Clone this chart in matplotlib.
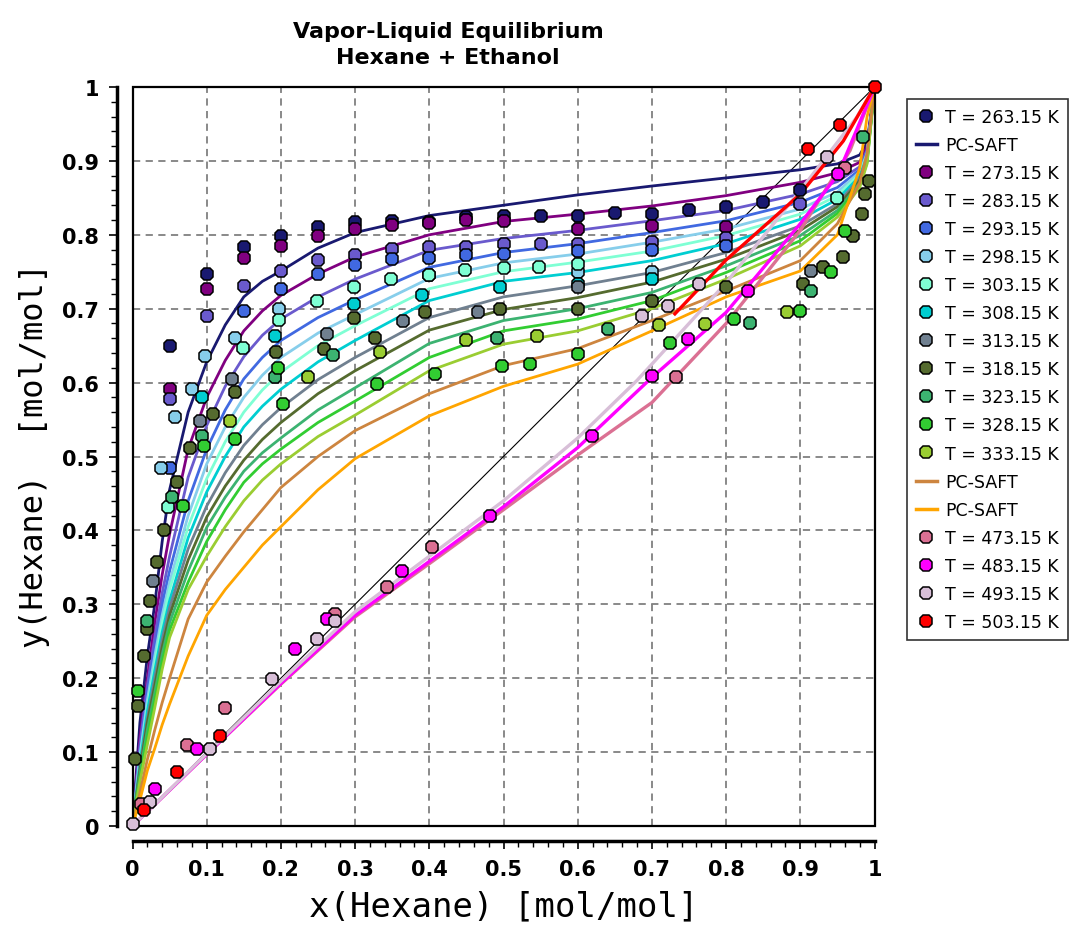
import matplotlib
matplotlib.use("Agg")
import matplotlib.pyplot as plt
from matplotlib.lines import Line2D
from matplotlib.patches import Rectangle
from matplotlib.ticker import MultipleLocator

# ---- PC-SAFT curves (shared x grid) ----
saft_x = [0, 0.01, 0.02, 0.03, 0.04, 0.05, 0.075, 0.1, 0.125, 0.15, 0.175, 0.2,
          0.25, 0.3, 0.4, 0.5, 0.6, 0.7, 0.8, 0.9, 0.95, 0.98, 0.99, 1.0]
saft_263 = [0, .14, .23, .30, .385, .455, .56, .628, .678, .716, .737, .751,
            .782, .803, .826, .840, .854, .866, .877, .888, .896, .908, .925, 1]
saft_273 = [0, .12, .20, .275, .34, .395, .51, .58, .63, .67, .697, .718,
            .747, .770, .800, .818, .828, .839, .853, .871, .884, .898, .920, 1]
saft_283 = [0, .11, .19, .255, .315, .365, .472, .542, .595, .635, .664, .686,
            .716, .740, .779, .795, .806, .819, .833, .855, .872, .892, .915, 1]
saft_293 = [0, .10, .18, .24, .30, .345, .44, .51, .563, .605, .634, .657,
            .688, .712, .756, .776, .788, .803, .819, .844, .864, .888, .912, 1]
saft_298 = [0, .095, .17, .23, .285, .33, .42, .49, .54, .58, .61, .634,
            .667, .692, .741, .762, .774, .790, .808, .835, .858, .885, .910, 1]
saft_303 = [0, .09, .16, .22, .275, .32, .405, .47, .52, .56, .59, .614,
            .650, .677, .727, .750, .763, .778, .799, .828, .853, .882, .908, 1]
saft_308 = [0, .085, .155, .21, .262, .305, .39, .452, .50, .54, .568, .591,
            .628, .657, .711, .737, .749, .765, .788, .821, .848, .879, .906, 1]
saft_313 = [0, .08, .145, .20, .252, .295, .375, .433, .478, .515, .543, .566,
            .604, .634, .688, .716, .731, .749, .776, .812, .842, .876, .904, 1]
saft_318 = [0, .075, .14, .19, .242, .285, .36, .418, .46, .495, .523, .546,
            .585, .616, .671, .699, .715, .736, .767, .806, .838, .873, .902, 1]
saft_323 = [0, .07, .13, .18, .232, .275, .345, .404, .445, .48, .505, .525,
            .563, .593, .653, .684, .700, .722, .758, .799, .833, .870, .900, 1]
saft_328 = [0, .065, .12, .17, .222, .265, .33, .385, .428, .465, .49, .510,
            .546, .575, .634, .670, .686, .711, .749, .792, .829, .867, .898, 1]
saft_333 = [0, .06, .11, .16, .212, .255, .32, .365, .405, .44, .468, .490,
            .527, .556, .616, .652, .670, .700, .740, .785, .824, .864, .896, 1]
saft_brown = [0, .045, .09, .13, .167, .20, .28, .33, .365, .398, .428, .458,
              .50, .535, .585, .623, .646, .684, .724, .765, .815, .87, .91, 1]
saft_orange = [0, .035, .075, .105, .137, .165, .23, .285, .32, .35, .38, .405,
               .455, .497, .555, .595, .625, .670, .716, .751, .80, .89, .96, 1]

# high temperature PC-SAFT curves
saft_473_x = [0, 0.1, 0.2, 0.3, 0.4, 0.5, 0.6, 0.7, 0.8, 0.9, 0.967, 1.0]
saft_473_y = [0, .097, .192, .283, .355, .428, .502, .573, .680, .806, .914, 1.0]
saft_483_x = [0, 0.1, 0.2, 0.3, 0.4, 0.5, 0.6, 0.7, 0.8, 0.9, 0.951, 1.0]
saft_483_y = [0, .097, .193, .285, .358, .432, .512, .607, .695, .815, .882, 1.0]
saft_493_x = [0, 0.1, 0.2, 0.3, 0.4, 0.5, 0.6, 0.68, 0.8, 0.9, 0.976, 1.0]
saft_493_y = [0, .098, .196, .290, .365, .440, .525, .603, .735, .860, .959, 1.0]
saft_503_x = [0.731, 0.8, 0.9, 0.958, 1.0]
saft_503_y = [0.693, 0.766, 0.855, 0.927, 1.0]

# ---- experimental data ----
x_263 = [0.05, 0.10, 0.15, 0.20, 0.25, 0.30, 0.35, 0.40, 0.45, 0.50, 0.55, 0.60,
         0.65, 0.70, 0.75, 0.80, 0.85, 0.90]
y_263 = [0.649, 0.747, 0.783, 0.799, 0.811, 0.817, 0.819, 0.817, 0.824, 0.826,
         0.826, 0.826, 0.829, 0.828, 0.833, 0.837, 0.844, 0.860]
x_273 = [0.05, 0.10, 0.15, 0.20, 0.25, 0.30, 0.35, 0.40, 0.45, 0.50, 0.60, 0.70, 0.80]
y_273 = [0.591, 0.726, 0.769, 0.785, 0.799, 0.808, 0.813, 0.816, 0.820, 0.819,
         0.808, 0.812, 0.810]
x_283 = [0.05, 0.10, 0.15, 0.20, 0.25, 0.30, 0.35, 0.40, 0.45, 0.50, 0.55, 0.60,
         0.70, 0.80, 0.90]
y_283 = [0.578, 0.690, 0.731, 0.751, 0.766, 0.773, 0.781, 0.783, 0.784, 0.788,
         0.788, 0.787, 0.790, 0.795, 0.842]
x_293 = [0.05, 0.15, 0.20, 0.25, 0.30, 0.35, 0.40, 0.45, 0.50, 0.60, 0.70, 0.80]
y_293 = [0.485, 0.697, 0.727, 0.747, 0.759, 0.767, 0.769, 0.772, 0.774, 0.778,
         0.780, 0.785]
x_298 = [0.039, 0.057, 0.08, 0.098, 0.138, 0.197, 0.40, 0.60, 0.70]
y_298 = [0.485, 0.553, 0.591, 0.636, 0.660, 0.700, 0.745, 0.750, 0.750]
x_303 = [0.048, 0.149, 0.197, 0.248, 0.298, 0.349, 0.399, 0.448, 0.50, 0.548,
         0.60, 0.95]
y_303 = [0.431, 0.647, 0.685, 0.711, 0.729, 0.740, 0.745, 0.752, 0.755, 0.757,
         0.760, 0.850]
x_308 = [0.093, 0.192, 0.298, 0.39, 0.495, 0.60, 0.70]
y_308 = [0.580, 0.663, 0.707, 0.718, 0.729, 0.733, 0.740]
x_313 = [0.028, 0.091, 0.134, 0.262, 0.365, 0.466, 0.60, 0.915]
y_313 = [0.332, 0.548, 0.605, 0.666, 0.684, 0.695, 0.730, 0.751]
x_318 = [0.003, 0.008, 0.015, 0.019, 0.024, 0.033, 0.042, 0.06, 0.077, 0.109,
         0.138, 0.194, 0.258, 0.298, 0.327, 0.394, 0.495, 0.60, 0.70, 0.80,
         0.904, 0.931, 0.958, 0.971, 0.983, 0.987, 0.992]
y_318 = [0.09, 0.163, 0.23, 0.266, 0.305, 0.357, 0.40, 0.465, 0.512, 0.557,
         0.587, 0.641, 0.645, 0.687, 0.66, 0.695, 0.70, 0.70, 0.71, 0.73,
         0.733, 0.756, 0.77, 0.799, 0.828, 0.855, 0.873]
x_323 = [0.019, 0.053, 0.093, 0.192, 0.27, 0.491, 0.641, 0.832, 0.915, 0.985]
y_323 = [0.278, 0.445, 0.528, 0.607, 0.637, 0.661, 0.672, 0.681, 0.724, 0.932]
x_328 = [0.008, 0.068, 0.097, 0.138, 0.196, 0.203, 0.329, 0.408, 0.498, 0.536,
         0.601, 0.724, 0.81, 0.90, 0.942, 0.96]
y_328 = [0.183, 0.433, 0.514, 0.524, 0.62, 0.571, 0.598, 0.612, 0.623, 0.625,
         0.639, 0.654, 0.686, 0.697, 0.749, 0.805]
x_333 = [0.131, 0.236, 0.334, 0.45, 0.545, 0.71, 0.772, 0.882]
y_333 = [0.548, 0.608, 0.641, 0.657, 0.663, 0.678, 0.679, 0.695]
x_473 = [0.012, 0.073, 0.125, 0.273, 0.343, 0.403, 0.733, 0.96]
y_473 = [0.03, 0.109, 0.16, 0.287, 0.323, 0.377, 0.607, 0.891]
x_483 = [0.03, 0.087, 0.219, 0.262, 0.363, 0.482, 0.619, 0.70, 0.749, 0.83, 0.951]
y_483 = [0.05, 0.104, 0.239, 0.28, 0.345, 0.42, 0.528, 0.609, 0.659, 0.724, 0.882]
x_493 = [0.0, 0.024, 0.105, 0.188, 0.248, 0.273, 0.686, 0.722, 0.763, 0.936]
y_493 = [0.003, 0.032, 0.104, 0.199, 0.253, 0.278, 0.69, 0.704, 0.733, 0.905]
x_503 = [0.015, 0.06, 0.118, 0.911, 0.954, 1.0]
y_503 = [0.021, 0.073, 0.122, 0.916, 0.948, 1.0]

tick_vals = [0, 0.1, 0.2, 0.3, 0.4, 0.5, 0.6, 0.7, 0.8, 0.9, 1]
tick_labels = ["0", "0.1", "0.2", "0.3", "0.4", "0.5", "0.6", "0.7", "0.8", "0.9", "1"]

low_series = [
    ("263.15", x_263, y_263, saft_263, "#191970"),
    ("273.15", x_273, y_273, saft_273, "#800080"),
    ("283.15", x_283, y_283, saft_283, "#6A5ACD"),
    ("293.15", x_293, y_293, saft_293, "#4169E1"),
    ("298.15", x_298, y_298, saft_298, "#87CEEB"),
    ("303.15", x_303, y_303, saft_303, "#7FFFD4"),
    ("308.15", x_308, y_308, saft_308, "#00CED1"),
    ("313.15", x_313, y_313, saft_313, "#708090"),
    ("318.15", x_318, y_318, saft_318, "#556B2F"),
    ("323.15", x_323, y_323, saft_323, "#3CB371"),
    ("328.15", x_328, y_328, saft_328, "#32CD32"),
    ("333.15", x_333, y_333, saft_333, "#9ACD32"),
]
high_series = [
    ("473.15", x_473, y_473, saft_473_x, saft_473_y, "#DB7093"),
    ("483.15", x_483, y_483, saft_483_x, saft_483_y, "#FF00FF"),
    ("493.15", x_493, y_493, saft_493_x, saft_493_y, "#D8BFD8"),
    ("503.15", x_503, y_503, saft_503_x, saft_503_y, "#FF0000"),
]

fig = plt.figure(figsize=(10.72, 9.28), dpi=100)
ax = fig.add_axes([132.5 / 1072, 1 - 827 / 928, 742 / 1072, 739 / 928])

# spines first: moving a spine resets the ticks
for s in ["top", "right"]:
    ax.spines[s].set_visible(False)
for s in ["left", "bottom"]:
    ax.spines[s].set_position(("outward", 11))
    ax.spines[s].set_linewidth(2.5)
ax.add_patch(Rectangle((0, 0), 1, 1, transform=ax.transAxes, fill=False,
                       ec="black", lw=1.6, zorder=3.5, clip_on=False))

mk = dict(marker="8", ms=10, mec="black", mew=1.1, ls="none", zorder=4, clip_on=False)
lw = 2.0

ax.plot([0, 1], [0, 1], color="black", lw=0.8, zorder=2)
for name, xs, ys, sy, col in low_series:
    ax.plot(saft_x, sy, color=col, lw=lw, zorder=2)
ax.plot(saft_x, saft_brown, color="#CD853F", lw=lw, zorder=2)
ax.plot(saft_x, saft_orange, color="#FFA500", lw=lw, zorder=2)
for name, xs, ys, sx, sy, col in high_series:
    ax.plot(sx, sy, color=col, lw=lw + 0.4, zorder=3)

for name, xs, ys, sy, col in low_series:
    ax.plot(xs, ys, mfc=col, **mk)
for name, xs, ys, sx, sy, col in high_series:
    ax.plot(xs, ys, mfc=col, **mk)

ax.set_xlim(0, 1)
ax.set_ylim(0, 1)
ax.set_xticks(tick_vals, tick_labels)
ax.set_yticks(tick_vals, tick_labels)
ax.xaxis.set_minor_locator(MultipleLocator(0.02))
ax.yaxis.set_minor_locator(MultipleLocator(0.02))
ax.tick_params(which="major", direction="out", length=6, width=1.2, pad=7)
ax.tick_params(which="minor", direction="out", length=4, width=1.0)
for lab in ax.get_xticklabels() + ax.get_yticklabels():
    lab.set_fontweight("bold")
    lab.set_fontsize(15)

ax.grid(True, which="major", ls=(0, (4, 3)), color="#808080", lw=1.3)

ax.set_xlabel("x(Hexane) [mol/mol]", family="DejaVu Sans Mono", fontsize=24.5,
              labelpad=7)
fig.text(35 / 1072, 1 - 455 / 928, "y(Hexane)  [mol/mol]", rotation=90,
         family="DejaVu Sans Mono", fontsize=23, ha="center", va="center")
fig.text(448 / 1072, 1 - 45 / 928, "Vapor-Liquid Equilibrium\nHexane + Ethanol",
         ha="center", va="center", fontsize=16, fontweight="bold", linespacing=1.35)

# legend
handles, labels = [], []
mk_leg = dict(marker="8", ms=10, mec="black", mew=1.1, ls="none")
handles.append(Line2D([], [], mfc="#191970", **mk_leg)); labels.append("T = 263.15 K")
handles.append(Line2D([], [], color="#191970", lw=2.5)); labels.append("PC-SAFT")
for name, xs, ys, sy, col in low_series[1:]:
    handles.append(Line2D([], [], mfc=col, **mk_leg)); labels.append(f"T = {name} K")
handles.append(Line2D([], [], color="#CD853F", lw=2.5)); labels.append("PC-SAFT")
handles.append(Line2D([], [], color="#FFA500", lw=2.5)); labels.append("PC-SAFT")
for name, xs, ys, sx, sy, col in high_series:
    handles.append(Line2D([], [], mfc=col, **mk_leg)); labels.append(f"T = {name} K")
leg = fig.legend(handles, labels, loc="upper left",
                 bbox_to_anchor=(907 / 1072, 1 - 100 / 928), fontsize=12.5,
                 frameon=True, fancybox=False, edgecolor="black",
                 labelspacing=0.58, handlelength=1.2, handletextpad=0.5,
                 borderpad=0.5, borderaxespad=0)
leg.get_frame().set_linewidth(1.2)

fig.savefig("out.png", dpi=100)
